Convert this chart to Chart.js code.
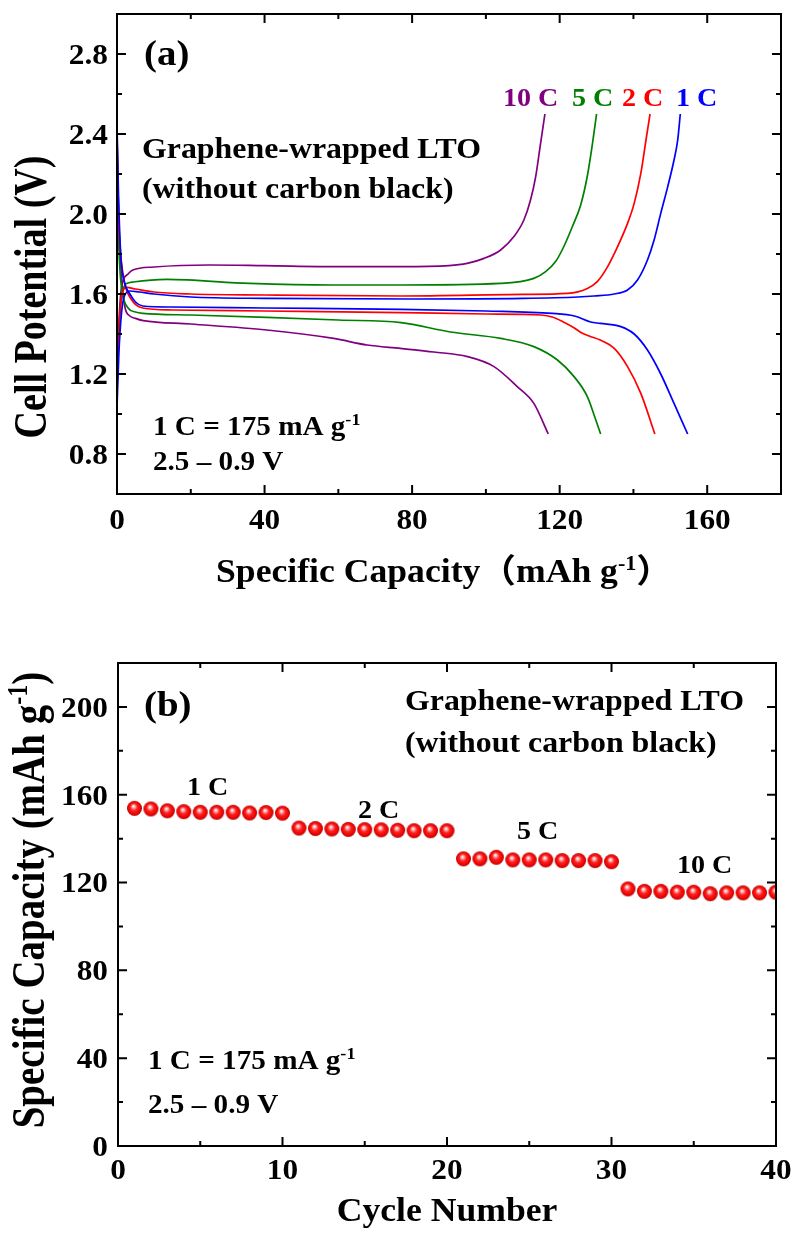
<!DOCTYPE html>
<html><head><meta charset="utf-8">
<script src="https://cdn.jsdelivr.net/npm/chart.js@4.4.0/dist/chart.umd.min.js"></script>
<style>
html,body{margin:0;padding:0;background:#fff;}
#wrap{position:relative;width:794px;height:1234px;overflow:hidden;}
.box{position:absolute;left:0;width:794px;}
canvas{display:block;}
</style></head><body>
<div id="wrap">
<div class="box" style="top:0;height:615px"><canvas id="ca" width="794" height="615"></canvas></div>
<div class="box" style="top:615px;height:619px"><canvas id="cb" width="794" height="619"></canvas></div>
</div>
<script>
// ---------- Panel (a): charge/discharge curves ----------
const chg1C_cap = [0, 0.5, 1.2, 2, 3.5, 6, 10, 20, 40, 80, 110, 125, 129.3, 134.8, 138.4, 141.1, 143.8, 145.6, 147.4, 149.3, 151, 152, 152.7];
const chg1C_V   = [1.03, 1.3, 1.5, 1.59, 1.615, 1.61, 1.6, 1.585, 1.578, 1.575, 1.578, 1.585, 1.59, 1.60, 1.62, 1.67, 1.77, 1.87, 2.003, 2.137, 2.27, 2.37, 2.5];
const dis1C_cap = [0, 0.4, 1, 2, 3.5, 5, 7, 15, 40, 77, 100, 118, 124, 128.4, 131, 136.6, 140.2, 143.8, 147.4, 151, 154.7];
const dis1C_V   = [2.45, 2.1, 1.8, 1.66, 1.6, 1.56, 1.54, 1.535, 1.53, 1.523, 1.515, 1.503, 1.49, 1.46, 1.453, 1.437, 1.40, 1.32, 1.20, 1.053, 0.9];

const chg2C_cap = [0, 0.5, 1.2, 2.6, 5, 10, 20, 40, 77, 110, 122.1, 127.5, 130.2, 133, 135.7, 138.4, 140.2, 142, 143.4, 144.5];
const chg2C_V   = [1.12, 1.4, 1.58, 1.633, 1.625, 1.61, 1.6, 1.595, 1.59, 1.598, 1.603, 1.628, 1.662, 1.737, 1.837, 1.953, 2.053, 2.203, 2.37, 2.5];
const dis2C_cap = [0, 0.4, 1, 2, 4, 7, 15, 40, 77, 100, 115, 118, 121, 124, 126, 128, 131, 134.8, 138.4, 142, 145.8];
const dis2C_V   = [2.405, 2.0, 1.8, 1.66, 1.57, 1.53, 1.52, 1.515, 1.507, 1.5, 1.495, 1.485, 1.46, 1.43, 1.405, 1.39, 1.37, 1.328, 1.237, 1.103, 0.9];

const chg5C_cap = [0, 0.5, 1, 2, 3, 4.4, 13.5, 36, 58.7, 77, 104, 113, 116.2, 118.9, 121.2, 123.4, 125.7, 127.5, 128.9, 130];
const chg5C_V   = [1.15, 1.4, 1.55, 1.64, 1.655, 1.66, 1.673, 1.653, 1.645, 1.645, 1.653, 1.678, 1.712, 1.762, 1.84, 1.935, 2.045, 2.19, 2.353, 2.5];
const dis5C_cap = [0, 0.3, 0.8, 1.5, 3, 5, 7, 20, 40.6, 60, 77, 90.4, 104, 113, 119.4, 123.9, 127.5, 129.8, 131.1];
const dis5C_V   = [2.27, 1.95, 1.72, 1.6, 1.53, 1.51, 1.503, 1.495, 1.483, 1.47, 1.457, 1.41, 1.378, 1.337, 1.27, 1.187, 1.087, 0.97, 0.9];

const chg10C_cap = [0, 0.5, 1, 1.5, 3, 4.3, 10, 25, 40, 60, 77, 90, 94.9, 99.5, 104, 107.6, 110.3, 112.1, 113.5, 114.7, 116];
const chg10C_V   = [1.2, 1.45, 1.6, 1.66, 1.7, 1.72, 1.735, 1.745, 1.742, 1.737, 1.737, 1.742, 1.753, 1.778, 1.82, 1.887, 1.97, 2.07, 2.187, 2.337, 2.5];
const dis10C_cap = [0, 0.3, 0.7, 1.3, 2.2, 3.5, 5, 7.1, 20, 40.6, 58.7, 67.8, 76.8, 85.9, 95, 102.2, 108.5, 113, 116.9];
const dis10C_V   = [2.4, 2.1, 1.85, 1.66, 1.53, 1.49, 1.478, 1.467, 1.45, 1.42, 1.378, 1.345, 1.328, 1.31, 1.287, 1.237, 1.137, 1.053, 0.9];

const xTicksA = [0, 40, 80, 120, 160];
const xTickLabelsA = ['0', '40', '80', '120', '160'];
const xMinorA = [20, 60, 100, 140, 180];
const yTicksA = [0.8, 1.2, 1.6, 2.0, 2.4, 2.8];
const yTickLabelsA = ['0.8', '1.2', '1.6', '2.0', '2.4', '2.8'];
const yMinorA = [1.0, 1.4, 1.8, 2.2, 2.6];

// ---------- Panel (b): rate capability ----------
const cycleNo = [1,2,3,4,5,6,7,8,9,10, 11,12,13,14,15,16,17,18,19,20, 21,22,23,24,25,26,27,28,29,30, 31,32,33,34,35,36,37,38,39,40];
const capacity = [153.8,153.5,152.7,152.3,152.0,152.0,152.0,151.7,151.9,151.6,
                  144.8,144.6,144.4,144.2,144.1,144.0,143.8,143.6,143.6,143.6,
                  130.8,130.8,131.5,130.3,130.3,130.3,130.0,130.0,130.0,129.5,
                  117.1,116.0,116.0,115.6,115.6,114.9,115.3,115.3,115.3,115.6];
const xTicksB = [0, 10, 20, 30, 40];
const xTickLabelsB = ['0', '10', '20', '30', '40'];
const xMinorB = [5, 15, 25, 35];
const yTicksB = [0, 40, 80, 120, 160, 200];
const yTickLabelsB = ['0', '40', '80', '120', '160', '200'];
const yMinorB = [20, 60, 100, 140, 180];

const FONT = '"Liberation Serif", "Times New Roman", "Noto Sans CJK SC", serif';
const SX = 1.08;

function pts(xs, ys){ return xs.map((v,i)=>({x:v, y:ys[i]})); }

function rich(ctx, parts, x, y, size, o){
  o = o || {};
  const sx = o.sx || SX;
  ctx.save();
  ctx.translate(x, y);
  ctx.scale(sx, 1);
  if (o.rot) ctx.rotate(-Math.PI/2);
  let w = 0;
  const ms = parts.map(p=>{
    const fs = p.sup ? size*0.62 : size;
    ctx.font = 'bold ' + fs + 'px ' + FONT;
    const mw = ctx.measureText(p.t).width;
    w += mw;
    return {p, fs, mw};
  });
  let cx = o.align === 'center' ? -w/2 : (o.align === 'right' ? -w : 0);
  ctx.fillStyle = o.color || '#000';
  ctx.textBaseline = o.baseline || 'alphabetic';
  ms.forEach(m=>{
    ctx.font = 'bold ' + m.fs + 'px ' + FONT;
    ctx.fillText(m.p.t, cx, m.p.sup ? -size*0.36 : 0);
    cx += m.mw;
  });
  ctx.restore();
}

function frameTicks(chart, xMaj, xMin, yMaj, yMin){
  const {ctx, chartArea:a, scales:{x, y}} = chart;
  ctx.save();
  ctx.strokeStyle = '#000';
  ctx.lineWidth = 2;
  ctx.strokeRect(a.left, a.top, a.right - a.left, a.bottom - a.top);
  const L = 9, l = 5;
  ctx.beginPath();
  const vx = (v, len)=>{ const p = x.getPixelForValue(v); ctx.moveTo(p, a.bottom); ctx.lineTo(p, a.bottom - len); ctx.moveTo(p, a.top); ctx.lineTo(p, a.top + len); };
  const vy = (v, len)=>{ const p = y.getPixelForValue(v); ctx.moveTo(a.left, p); ctx.lineTo(a.left + len, p); ctx.moveTo(a.right, p); ctx.lineTo(a.right - len, p); };
  xMaj.forEach(v=>vx(v, L)); xMin.forEach(v=>vx(v, l));
  yMaj.forEach(v=>vy(v, L)); yMin.forEach(v=>vy(v, l));
  ctx.stroke();
  ctx.restore();
}

function tickLabels(chart, xv, xl, yv, yl, xBase, yRight, size){
  const {ctx, scales:{x, y}} = chart;
  xv.forEach((v,i)=>rich(ctx, [{t:xl[i]}], x.getPixelForValue(v), xBase, size, {align:'center'}));
  yv.forEach((v,i)=>rich(ctx, [{t:yl[i]}], yRight, y.getPixelForValue(v) + size*0.34, size, {align:'right'}));
}

function sphere(r){
  const s = Math.ceil(2*r + 2);
  const c = document.createElement('canvas');
  c.width = s; c.height = s;
  const g = c.getContext('2d');
  const cx = s/2, cy = s/2;
  const grad = g.createRadialGradient(cx - r*0.15, cy - r*0.3, r*0.04, cx, cy, r);
  grad.addColorStop(0, '#ffffff');
  grad.addColorStop(0.2, '#ffa0a0');
  grad.addColorStop(0.45, '#ff2020');
  grad.addColorStop(0.85, '#e80000');
  grad.addColorStop(1, '#a80000');
  g.fillStyle = grad;
  g.beginPath(); g.arc(cx, cy, r, 0, Math.PI*2); g.fill();
  return c;
}

Chart.defaults.font.family = FONT;
Chart.defaults.devicePixelRatio = 1;

function lineDS(xs, ys, color){
  return {data: pts(xs, ys), borderColor: color, backgroundColor: color, borderWidth: 1.7,
          pointRadius: 0, showLine: true, fill: false, cubicInterpolationMode: 'monotone', clip: 0};
}

const BLUE = '#0000ff', RED = '#ff0000', GREEN = '#008000', PURPLE = '#800080';

new Chart(document.getElementById('ca'), {
  type: 'scatter',
  data: { datasets: [
    lineDS(chg1C_cap, chg1C_V, BLUE), lineDS(dis1C_cap, dis1C_V, BLUE),
    lineDS(chg2C_cap, chg2C_V, RED), lineDS(dis2C_cap, dis2C_V, RED),
    lineDS(chg5C_cap, chg5C_V, GREEN), lineDS(dis5C_cap, dis5C_V, GREEN),
    lineDS(chg10C_cap, chg10C_V, PURPLE), lineDS(dis10C_cap, dis10C_V, PURPLE)
  ]},
  options: {
    responsive: false, animation: false, devicePixelRatio: 1,
    layout: { padding: { left: 0, top: 14, right: 13, bottom: 0 } },
    plugins: { legend: { display: false }, tooltip: { enabled: false } },
    scales: {
      x: { type: 'linear', min: 0, max: 180, grid: { display: false }, border: { display: false },
           ticks: { display: false }, afterFit: s => { s.height = 121; } },
      y: { type: 'linear', min: 0.6, max: 3.0, grid: { display: false }, border: { display: false },
           ticks: { display: false }, afterFit: s => { s.width = 117; } }
    }
  },
  plugins: [{
    id: 'decoA',
    afterDraw(chart){
      const ctx = chart.ctx;
      frameTicks(chart, xTicksA, xMinorA, yTicksA, yMinorA);
      tickLabels(chart, xTicksA, xTickLabelsA, yTicksA, yTickLabelsA, 529, 108, 29);
      rich(ctx, [{t:'Specific Capacity'}, {t:'（'}, {t:'mAh g'}, {t:'-1', sup:true}, {t:'）'}], 444, 582, 33, {align:'center'});
      rich(ctx, [{t:'Cell Potential (V)'}], 46, 297, 38, {align:'center', rot:true, sx:1.2});
      rich(ctx, [{t:'(a)'}], 144, 65, 36);
      rich(ctx, [{t:'Graphene-wrapped LTO'}], 142, 158, 29.5);
      rich(ctx, [{t:'(without carbon black)'}], 142, 198, 29.5);
      rich(ctx, [{t:'1 C = 175 mA g'}, {t:'-1', sup:true}], 153, 435, 27);
      rich(ctx, [{t:'2.5 – 0.9 V'}], 153, 470, 27);
      rich(ctx, [{t:'10 C'}], 503, 106, 26, {color: PURPLE});
      rich(ctx, [{t:'5 C'}], 572, 106, 26, {color: GREEN});
      rich(ctx, [{t:'2 C'}], 622, 106, 26, {color: RED});
      rich(ctx, [{t:'1 C'}], 676, 106, 26, {color: BLUE});
    }
  }]
});

const ball = sphere(7.5);
new Chart(document.getElementById('cb'), {
  type: 'scatter',
  data: { datasets: [{
    data: pts(cycleNo, capacity), pointStyle: ball, pointRadius: 7.5, showLine: false, clip: 0
  }]},
  options: {
    responsive: false, animation: false, devicePixelRatio: 1,
    layout: { padding: { left: 0, top: 48, right: 18, bottom: 0 } },
    plugins: { legend: { display: false }, tooltip: { enabled: false } },
    scales: {
      x: { type: 'linear', min: 0, max: 40, grid: { display: false }, border: { display: false },
           ticks: { display: false }, afterFit: s => { s.height = 88; } },
      y: { type: 'linear', min: 0, max: 220, grid: { display: false }, border: { display: false },
           ticks: { display: false }, afterFit: s => { s.width = 118; } }
    }
  },
  plugins: [{
    id: 'decoB',
    afterDraw(chart){
      const ctx = chart.ctx;
      frameTicks(chart, xTicksB, xMinorB, yTicksB, yMinorB);
      tickLabels(chart, xTicksB, xTickLabelsB, yTicksB, yTickLabelsB, 1179 - 615, 108, 29);
      rich(ctx, [{t:'Cycle Number'}], 447, 1221 - 615, 33, {align:'center'});
      rich(ctx, [{t:'Specific Capacity (mAh g'}, {t:'-1', sup:true}, {t:')'}], 44, 900 - 615, 39, {align:'center', rot:true, sx:1.2});
      rich(ctx, [{t:'(b)'}], 144, 716 - 615, 36);
      rich(ctx, [{t:'Graphene-wrapped LTO'}], 405, 710 - 615, 29.5);
      rich(ctx, [{t:'(without carbon black)'}], 405, 752 - 615, 29.5);
      rich(ctx, [{t:'1 C'}], 187, 795 - 615, 26);
      rich(ctx, [{t:'2 C'}], 358, 818 - 615, 26);
      rich(ctx, [{t:'5 C'}], 517, 839 - 615, 26);
      rich(ctx, [{t:'10 C'}], 677, 873 - 615, 26);
      rich(ctx, [{t:'1 C = 175 mA g'}, {t:'-1', sup:true}], 148, 1069 - 615, 27);
      rich(ctx, [{t:'2.5 – 0.9 V'}], 148, 1113 - 615, 27);
    }
  }]
});
</script>
</body></html>
